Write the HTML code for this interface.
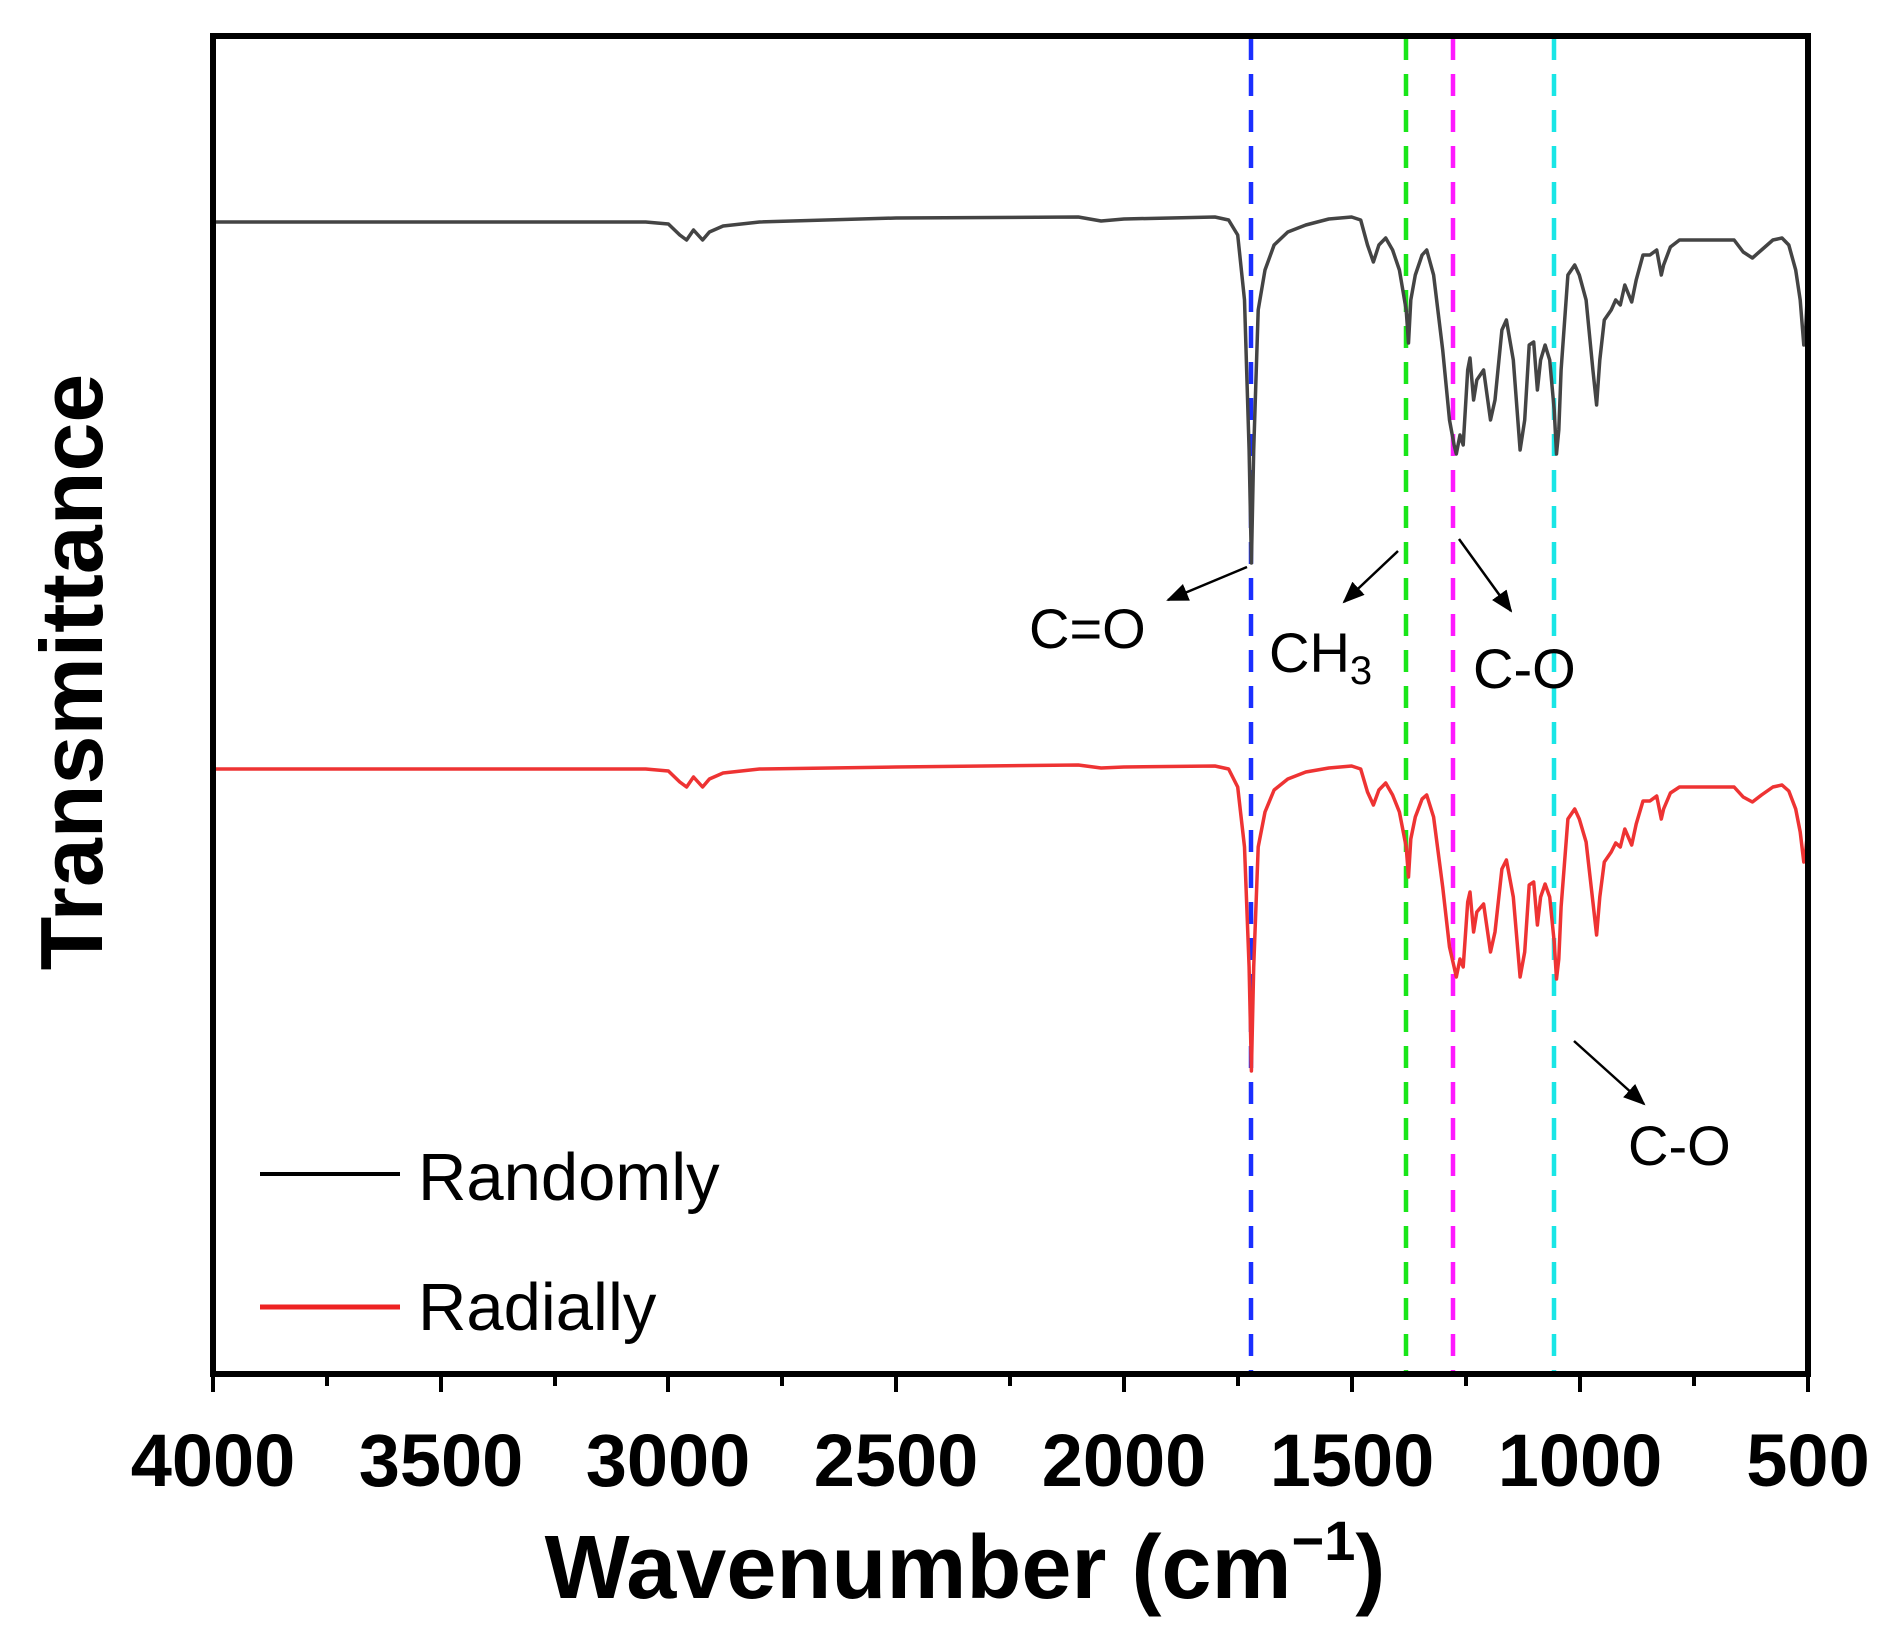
<!DOCTYPE html>
<html><head><meta charset="utf-8"><style>
html,body{margin:0;padding:0;background:#fff}
svg{display:block}
text{font-family:"Liberation Sans",Arial,sans-serif}
</style></head><body>
<svg width="1892" height="1652" viewBox="0 0 1892 1652" xmlns="http://www.w3.org/2000/svg">
<defs><marker id="ah" markerWidth="22" markerHeight="18" refX="20" refY="9" orient="auto" markerUnits="userSpaceOnUse" viewBox="0 0 22 18"><path d="M0,0 L22,9 L0,18 z" fill="#000"/></marker>
<path id="sp" d="M213,222 L645.7,222 L668.4,224 L679.8,235 L686.6,240 L693.5,230 L702.6,240 L709.4,232 L723.1,226 L759.5,222 L896.1,218 L1078.3,217 L1101.1,221 L1123.9,219 L1214.9,217 L1228.6,220 L1237.7,235 L1244.5,300 L1249.1,450 L1251.4,563 L1253.7,450 L1258.2,310 L1265,270 L1274.1,245 L1287.8,232 L1305.8,225 L1328.8,219 L1351.6,217 L1360.7,220 L1367.5,245 L1373.4,262 L1378.9,245 L1385.7,238 L1392.6,250 L1399.4,270 L1406.2,310 L1408.5,343 L1410.8,300 L1415.3,275 L1422.1,255 L1426.7,250 L1433.6,275 L1442.7,350 L1449.5,420 L1454.1,445 L1456.3,454 L1460,435 L1463.2,445 L1467.7,370 L1470,358 L1473.6,400 L1476.8,380 L1483.6,370 L1490.5,420 L1495,400 L1501.9,330 L1506.4,320 L1513.3,360 L1520.1,450 L1524.7,420 L1529.2,345 L1533.7,342 L1537.4,390 L1540.6,360 L1545.1,345 L1549.7,360 L1554.2,410 L1556.5,454 L1558.8,430 L1561.1,370 L1567.9,275 L1574.7,265 L1579.3,275 L1586.1,300 L1592.9,370 L1596.6,405 L1599.8,360 L1604.3,320 L1611.2,310 L1615.7,300 L1620.3,305 L1624.8,285 L1631.7,302 L1636.2,280 L1643,255 L1649.9,255 L1656.7,250 L1661.3,275 L1663.6,265 L1670.4,247 L1679.5,240 L1715.9,240 L1734.1,240 L1743.2,252 L1752.4,258 L1761.5,250 L1772.9,240 L1782,238 L1788.8,245 L1795.7,270 L1800.2,300 L1803.8,345 L1805.7,330 L1807,300"/>
</defs>
<g stroke-width="4.5" stroke-dasharray="22,14" fill="none">
<line x1="1251" y1="38" x2="1251" y2="1372" stroke="#1a2fff"/>
<line x1="1406" y1="38" x2="1406" y2="1372" stroke="#19e619"/>
<line x1="1453" y1="38" x2="1453" y2="1372" stroke="#ff19ff"/>
<line x1="1554" y1="38" x2="1554" y2="1372" stroke="#19e6e6"/>
</g>
<use href="#sp" fill="none" stroke="#444" stroke-width="3.5" stroke-linejoin="round"/>
<g transform="translate(0,547)">
<path fill="none" stroke="#ee3333" stroke-width="3.5" stroke-linejoin="round" d="M213,222 L645.7,222 L668.4,224 L679.8,235 L686.6,240 L693.5,230 L702.6,240 L709.4,232 L723.1,226 L759.5,222 L896.1,220 L1078.3,218 L1101.1,221 L1123.9,220 L1214.9,219 L1228.6,222 L1237.7,240 L1244.5,300 L1249.1,420 L1251.4,524 L1253.7,420 L1258.2,300 L1265,265 L1274.1,243 L1287.8,232 L1305.8,225 L1328.8,221 L1351.6,219 L1360.7,222 L1367.5,245 L1373.4,258 L1378.9,243 L1385.7,236 L1392.6,248 L1399.4,265 L1406.2,300 L1408.5,330 L1410.8,292 L1415.3,270 L1422.1,252 L1426.7,248 L1433.6,270 L1442.7,340 L1449.5,400 L1454.1,420 L1456.3,430 L1460,412 L1463.2,420 L1467.7,355 L1470,345 L1473.6,385 L1476.8,365 L1483.6,357 L1490.5,405 L1495,385 L1501.9,322 L1506.4,313 L1513.3,350 L1520.1,430 L1524.7,405 L1529.2,338 L1533.7,335 L1537.4,378 L1540.6,350 L1545.1,337 L1549.7,350 L1554.2,395 L1556.5,432 L1558.8,412 L1561.1,360 L1567.9,272 L1574.7,262 L1579.3,272 L1586.1,295 L1592.9,355 L1596.6,388 L1599.8,350 L1604.3,315 L1611.2,305 L1615.7,296 L1620.3,300 L1624.8,282 L1631.7,298 L1636.2,277 L1643,254 L1649.9,254 L1656.7,249 L1661.3,272 L1663.6,262 L1670.4,246 L1679.5,240 L1715.9,240 L1734.1,240 L1743.2,250 L1752.4,255 L1761.5,248 L1772.9,240 L1782,238 L1788.8,244 L1795.7,262 L1800.2,285 L1803.8,315 L1805.7,305 L1807,290"/>
</g>
<rect x="213" y="36" width="1595" height="1338" fill="none" stroke="#000" stroke-width="6"/>
<g stroke="#000" stroke-width="4">
<line x1="213" y1="1374" x2="213" y2="1392"/><line x1="327" y1="1374" x2="327" y2="1386"/>
<line x1="441" y1="1374" x2="441" y2="1392"/><line x1="555" y1="1374" x2="555" y2="1386"/>
<line x1="668" y1="1374" x2="668" y2="1392"/><line x1="782" y1="1374" x2="782" y2="1386"/>
<line x1="896" y1="1374" x2="896" y2="1392"/><line x1="1010" y1="1374" x2="1010" y2="1386"/>
<line x1="1124" y1="1374" x2="1124" y2="1392"/><line x1="1238" y1="1374" x2="1238" y2="1386"/>
<line x1="1352" y1="1374" x2="1352" y2="1392"/><line x1="1466" y1="1374" x2="1466" y2="1386"/>
<line x1="1580" y1="1374" x2="1580" y2="1392"/><line x1="1694" y1="1374" x2="1694" y2="1386"/>
<line x1="1808" y1="1374" x2="1808" y2="1392"/>
</g>
<g font-weight="bold" font-size="74" text-anchor="middle" fill="#000">
<text x="213" y="1486">4000</text><text x="441" y="1486">3500</text><text x="668" y="1486">3000</text>
<text x="896" y="1486">2500</text><text x="1124" y="1486">2000</text><text x="1352" y="1486">1500</text>
<text x="1580" y="1486">1000</text><text x="1808" y="1486">500</text>
</g>
<text x="965" y="1598" font-weight="bold" font-size="90" text-anchor="middle">Wavenumber (cm<tspan font-size="56" dy="-38">−1</tspan><tspan dy="38">)</tspan></text>
<text transform="translate(102,672) rotate(-90)" font-weight="bold" font-size="88" text-anchor="middle">Transmittance</text>
<line x1="260" y1="1174" x2="400" y2="1174" stroke="#000" stroke-width="4"/>
<text x="418" y="1200" font-size="67">Randomly</text>
<line x1="260" y1="1307" x2="400" y2="1307" stroke="#ee2222" stroke-width="5"/>
<text x="418" y="1330" font-size="67">Radially</text>
<g font-size="56" fill="#000">
<text x="1029" y="648">C=O</text>
<text x="1269" y="672">CH<tspan font-size="40" dy="12">3</tspan></text>
<text x="1473" y="688">C-O</text>
<text x="1628" y="1165">C-O</text>
</g>
<g stroke="#000" stroke-width="2.5" marker-end="url(#ah)">
<line x1="1247" y1="567" x2="1168" y2="600"/>
<line x1="1398" y1="551" x2="1344" y2="602"/>
<line x1="1459" y1="539" x2="1511" y2="611"/>
<line x1="1574" y1="1041" x2="1644" y2="1104"/>
</g>
</svg>
</body></html>
